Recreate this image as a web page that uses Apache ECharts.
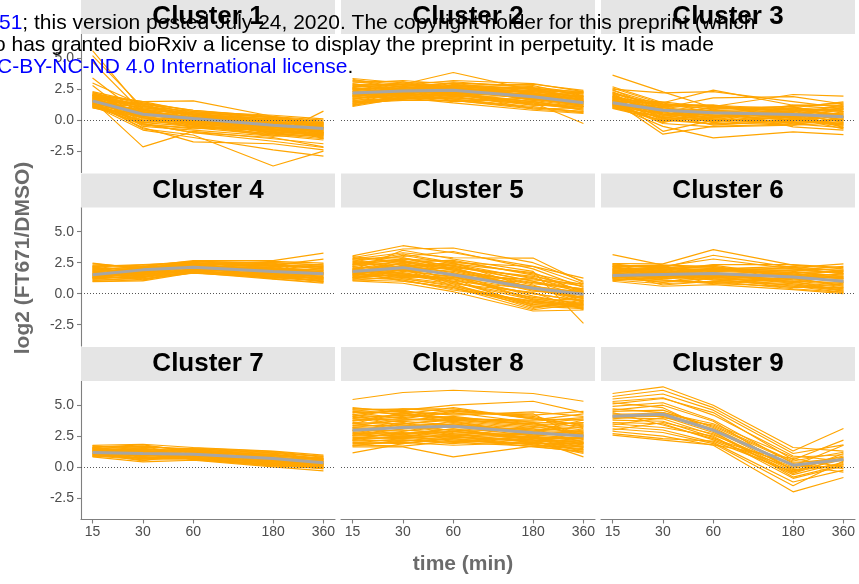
<!DOCTYPE html>
<html>
<head>
<meta charset="utf-8">
<script src="https://cdn.jsdelivr.net/npm/echarts@6.0.0/dist/echarts.min.js"></script>
<style>
  html, body { margin: 0; padding: 0; background: #ffffff; }
  #chart { width: 859px; height: 584px; }
</style>
</head>
<body>
<div id="chart"></div>
<script>
// Sampling times (min) and y tick values
const times = [15, 30, 60, 180, 360];
const yTicks = [-2.5, 0, 2.5, 5];
const clusterNames = ['Cluster 1', 'Cluster 2', 'Cluster 3', 'Cluster 4', 'Cluster 5',
                      'Cluster 6', 'Cluster 7', 'Cluster 8', 'Cluster 9'];

// Per-gene log2 (FT671/DMSO) profiles, one row per gene, values at each time
const cluster1 = [
  [2.3, 1.4, 0.8, 0.3, 0.0], [2.2, 1.3, 0.6, 0.2, -0.3], [2.1, 1.5, 0.7, 0.4, 0.1],
  [2.0, 1.1, 0.5, -0.1, -0.5], [1.9, 0.9, 0.4, 0.0, -0.2], [1.8, 1.2, 0.3, -0.3, -0.7],
  [1.7, 0.7, 0.2, -0.2, -0.4], [1.6, 0.5, 0.1, -0.5, -0.9], [1.5, 0.8, 0.5, 0.1, -0.6],
  [1.4, 0.3, -0.1, -0.6, -1.0], [1.3, 0.6, 0.0, -0.4, -0.8], [1.2, 0.2, -0.3, -0.8, -1.2],
  [1.1, 0.4, 0.2, -0.7, -1.1], [1.0, 0.0, -0.4, -0.9, -1.3], [1.6, 1.0, 0.6, -0.1, -0.3],
  [1.9, 0.1, -0.2, -1.0, -1.4], [1.4, -0.2, -0.5, -1.1, -1.5], [1.2, -0.4, -0.6, -1.2, -1.6],
  [2.0, -0.5, -0.8, -1.3, -1.2], [1.7, 0.6, 0.3, -0.5, -1.0], [1.5, 1.3, 0.8, 0.2, -0.1],
  [1.3, 0.9, 0.4, -0.2, -0.5], [1.1, 0.7, -0.2, -0.3, -0.9], [2.1, 0.4, 0.0, -0.6, -0.7],
  [1.8, 0.2, -0.6, -0.8, -1.1], [1.0, 0.5, 0.1, -1.0, -0.8],
  [2.25, 1.0, 0.45, 0.1, -0.4], [2.15, 0.8, 0.2, -0.4, -0.6], [2.05, 1.2, 0.1, -0.7, -1.2],
  [1.95, 0.5, 0.6, 0.3, -0.5], [1.85, 0.3, -0.3, -0.3, -0.7], [1.75, 1.1, 0.7, 0.0, -1.1],
  [1.65, 0.0, -0.5, -0.9, -0.4], [1.55, 0.7, -0.1, -0.8, -1.3], [1.45, 1.4, 0.5, -0.6, -0.2],
  [1.35, -0.1, 0.3, -0.2, -1.4], [1.25, 0.9, 0.0, -1.1, -0.6], [1.15, -0.3, -0.7, -0.4, -1.0],
  [1.05, 0.3, 0.6, -0.5, -0.3], [1.5, 0.6, -0.3, -1.2, -1.0], [1.8, 0.4, 0.3, -0.7, -0.8],
  [2.0, 0.9, -0.4, 0.1, -1.5], [1.3, 1.1, 0.7, 0.2, -0.6], [1.7, -0.2, 0.0, -0.8, -0.3],
  [1.1, 0.8, -0.2, -1.0, -1.1], [1.9, 1.3, 0.2, -0.1, -1.2],
  [5.6, 0.8, 0.2, -0.3, -0.6], [5.2, 1.0, 0.5, -0.2, -1.0], [4.7, 0.6, -0.1, -0.7, -1.3],
  [3.4, 0.3, -0.3, -0.5, -0.9], [3.0, 1.2, 0.4, -0.4, -1.5], [2.8, -0.3, -1.0, -1.4, -2.15],
  [1.6, -2.15, -0.9, -1.5, -1.9], [1.3, -0.6, -1.75, -1.9, -2.4], [1.5, -0.7, -1.2, -3.7, -2.5],
  [1.2, -0.8, -1.4, -2.4, -2.9], [1.4, -0.3, -1.0, -1.7, -2.2], [2.0, 1.5, 1.56, 0.3, -0.2],
  [1.0, 0.2, -0.4, -1.3, 0.73]
];
const cluster2 = [
  [3.36, 3.0, 3.1, 2.6, 2.0], [3.2, 2.9, 2.8, 2.9, 2.4], [3.0, 3.2, 2.9, 2.5, 1.8],
  [2.9, 2.7, 3.0, 2.7, 2.2], [2.8, 2.5, 2.6, 2.2, 1.7], [2.7, 2.8, 3.2, 2.95, 2.3],
  [2.6, 2.4, 2.7, 2.0, 1.5], [2.5, 2.6, 2.5, 2.3, 1.9], [2.4, 2.2, 2.3, 1.8, 1.3],
  [2.3, 2.5, 2.4, 2.1, 1.6], [2.2, 2.3, 2.6, 1.6, 1.1], [2.1, 2.0, 2.2, 1.9, 1.4],
  [2.0, 2.4, 2.0, 1.5, 1.0], [1.9, 2.1, 2.5, 1.7, 1.2], [1.8, 1.9, 2.1, 1.3, 0.9],
  [1.7, 2.2, 1.9, 2.0, 1.7], [1.6, 1.8, 1.8, 1.4, 0.8], [1.5, 1.7, 2.3, 1.2, 1.1],
  [1.4, 1.6, 1.6, 1.0, 0.7], [1.3, 2.0, 1.7, 1.1, 0.6], [1.1, 1.8, 1.4, 0.8, 0.54],
  [3.3, 2.6, 2.7, 2.4, 2.2], [3.15, 3.1, 2.3, 2.0, 1.5], [2.95, 2.3, 3.0, 2.8, 1.9],
  [2.85, 2.9, 2.4, 1.7, 1.2], [2.65, 2.1, 2.8, 2.5, 2.3], [2.45, 2.7, 2.1, 1.5, 0.9],
  [2.35, 1.9, 2.6, 2.3, 1.8], [2.15, 2.6, 3.0, 2.1, 1.4], [2.05, 1.7, 1.9, 1.2, 1.1],
  [1.85, 2.4, 2.2, 2.4, 1.9], [1.75, 2.0, 2.9, 1.9, 1.5], [1.65, 2.5, 1.7, 1.0, 0.7],
  [1.55, 2.2, 2.4, 1.7, 1.3], [1.45, 1.8, 2.0, 2.2, 1.6], [1.35, 2.3, 2.2, 1.5, 0.8],
  [1.25, 1.7, 1.8, 1.3, 1.2], [1.15, 2.1, 1.6, 0.9, 0.6], [2.75, 3.0, 2.5, 1.8, 1.1],
  [2.55, 2.2, 2.7, 2.6, 1.7], [1.95, 3.1, 2.6, 2.0, 2.2],
  [2.5, 2.9, 3.85, 2.4, 1.6], [2.3, 2.1, 2.0, 1.4, -0.27], [3.1, 2.7, 2.4, 2.6, 2.1],
  [1.9, 2.6, 2.8, 2.2, 1.3], [2.6, 2.0, 2.2, 0.9, 1.0], [2.0, 2.8, 2.7, 1.6, 2.0],
  [1.2, 1.9, 1.5, 1.8, 1.5]
];
const cluster3 = [
  [3.63, 2.28, 1.0, 0.8, 0.5], [2.7, 1.4, 2.42, 1.2, 0.9], [2.5, 2.2, 2.3, 1.5, 1.0],
  [2.4, 1.2, 1.1, 2.07, 1.94], [2.2, 1.0, 1.8, 1.9, 1.3], [2.1, 1.3, 0.9, 1.0, 1.48],
  [2.0, 0.9, 0.8, 0.6, 0.4], [1.9, 1.1, 1.2, 0.9, 0.7], [1.8, 0.7, 0.5, 0.7, 1.1],
  [1.7, 1.48, 1.0, 1.1, 0.2], [1.6, 0.5, 0.3, 0.2, 0.6], [1.5, 0.8, 0.7, 0.4, -0.1],
  [1.4, 0.6, 0.2, 0.8, 0.9], [1.3, 0.4, 0.6, 0.3, 0.3], [1.2, 1.0, 0.4, 0.0, -0.3],
  [1.1, 0.2, -0.1, 0.5, 0.8], [1.0, 0.3, 0.1, -0.2, 0.1], [0.95, 0.0, -0.3, 0.1, -0.5],
  [1.3, -0.27, -0.54, -0.4, -0.2], [1.5, 0.1, 0.9, -0.54, -0.8], [1.9, -0.9, 0.0, 0.2, 0.5],
  [1.6, -1.13, -0.5, -0.3, 0.0], [1.2, -0.5, -1.43, -0.94, -1.16], [1.4, 0.7, -0.2, 1.21, 1.2],
  [1.1, 1.2, 1.21, 0.6, -0.6], [2.3, 0.5, 0.0, -0.1, 0.7], [1.8, 0.9, 0.6, 1.0, 0.3],
  [1.0, 0.6, 0.4, 0.3, 1.3], [1.7, 0.2, 0.8, 0.0, -0.4], [1.3, 1.1, 0.3, 0.7, 0.0],
  [2.6, 1.3, 1.1, 0.5, 0.2], [2.45, 0.8, 0.3, 0.9, 1.1], [2.25, 1.1, 0.7, 0.2, -0.3],
  [2.05, 0.4, 1.0, 0.7, 0.9], [1.95, 0.6, 0.1, -0.1, 0.4], [1.85, 1.2, 0.9, 1.1, 1.4],
  [1.75, 0.0, 0.4, 0.6, -0.2], [1.65, 0.9, -0.2, 0.3, 0.6], [1.55, 0.3, 1.1, 0.8, 0.0],
  [1.45, 1.4, 0.6, -0.3, -0.6], [1.35, -0.1, 0.2, 0.5, 1.0], [1.25, 0.7, 0.8, 0.9, 0.2],
  [1.15, 0.5, -0.4, 0.0, 0.5], [1.05, 1.0, 0.5, 0.4, -0.4], [0.98, 0.2, 0.0, 1.0, 0.7],
  [2.15, 0.1, -0.3, -0.2, 0.1], [1.6, 1.3, 1.2, 0.1, 0.9], [1.9, 0.4, 0.5, 1.2, 1.2],
  [1.4, -0.2, 0.7, 0.2, -0.7], [1.2, 0.8, 0.1, -0.4, 0.3]
];
const cluster4 = [
  [2.46, 2.0, 2.6, 2.5, 2.3], [2.3, 2.2, 2.67, 2.67, 3.27], [2.2, 2.35, 2.5, 2.3, 2.79],
  [2.1, 1.9, 2.3, 2.6, 2.46], [2.0, 2.1, 2.4, 2.2, 2.2], [1.9, 1.8, 2.2, 2.0, 1.9],
  [1.8, 2.0, 2.0, 2.4, 2.1], [1.7, 1.7, 2.1, 1.9, 1.7], [1.6, 1.9, 2.3, 1.7, 1.5],
  [1.5, 1.6, 1.9, 1.8, 1.8], [1.4, 1.5, 2.0, 1.5, 1.3], [1.3, 1.8, 1.8, 1.6, 1.2],
  [1.2, 1.4, 1.7, 1.4, 1.0], [1.1, 1.2, 1.65, 1.3, 1.1], [1.0, 1.1, 1.9, 1.2, 0.9],
  [0.97, 1.03, 1.7, 1.17, 0.84], [1.5, 2.1, 2.2, 2.1, 1.6], [1.8, 1.5, 2.5, 1.6, 1.4],
  [1.3, 1.3, 2.4, 2.3, 2.0], [2.0, 1.6, 1.8, 1.5, 1.2], [1.6, 2.2, 2.0, 1.9, 2.4],
  [1.2, 1.7, 2.1, 2.0, 1.7], [2.2, 1.4, 1.9, 1.4, 1.0], [1.4, 2.0, 2.6, 2.2, 1.5],
  [2.4, 2.1, 2.3, 2.0, 1.6], [2.25, 1.7, 2.2, 1.8, 1.3], [2.15, 2.3, 2.6, 2.4, 2.0],
  [2.05, 1.5, 2.0, 1.6, 1.1], [1.95, 2.2, 2.5, 2.1, 1.9], [1.85, 1.3, 1.8, 1.3, 1.0],
  [1.75, 2.1, 2.4, 2.5, 2.3], [1.65, 1.2, 1.7, 1.4, 1.2], [1.55, 1.9, 2.1, 1.7, 1.4],
  [1.45, 1.1, 1.8, 2.0, 1.8], [1.35, 1.6, 2.3, 1.9, 1.6], [1.25, 2.0, 2.5, 1.5, 0.95],
  [1.15, 1.5, 1.9, 2.3, 2.2], [1.05, 1.3, 2.0, 1.8, 1.3], [1.7, 1.8, 2.4, 1.2, 1.9],
  [1.9, 1.1, 2.1, 2.5, 1.1], [1.3, 2.2, 1.7, 1.6, 2.1], [2.1, 1.6, 2.2, 1.3, 1.7]
];
const cluster5 = [
  [3.05, 3.87, 3.3, 2.2, 1.25], [2.9, 3.6, 3.68, 2.5, 1.0], [2.8, 3.3, 2.9, 2.87, 0.9],
  [2.7, 3.0, 3.4, 2.0, 0.5], [2.5, 2.8, 2.6, 1.6, 0.7], [2.3, 3.1, 2.4, 1.2, 0.3],
  [2.2, 2.6, 2.1, 1.4, 0.6], [2.0, 2.4, 1.9, 0.9, 0.2], [1.9, 2.2, 2.3, 1.0, -0.2],
  [1.8, 2.0, 1.6, 0.6, 0.1], [1.7, 1.9, 1.3, 0.3, -0.4], [1.6, 2.3, 1.7, 0.2, -0.1],
  [1.5, 1.7, 1.1, 0.0, -0.6], [1.4, 1.5, 0.9, -0.3, -0.8], [1.3, 1.8, 1.4, -0.5, -0.5],
  [1.2, 1.2, 0.7, -0.8, -1.0], [1.1, 1.0, 0.5, -1.0, -1.2], [1.03, 0.84, 0.16, -1.4, -1.32],
  [2.4, 2.7, 1.5, -0.2, -0.9], [2.1, 1.4, 1.2, -1.1, -0.7], [1.6, 1.1, 0.4, -0.6, -1.1],
  [2.6, 2.1, 1.8, 0.5, -0.3], [1.9, 3.5, 2.8, 1.8, -2.4], [1.5, 2.5, 2.0, 0.8, 0.4],
  [2.0, 1.6, 1.0, -0.9, -0.2], [1.3, 2.9, 2.2, 1.3, 0.0], [2.2, 1.3, 0.8, 0.1, -1.3],
  [1.7, 2.2, 2.5, 2.19, 0.8],
  [3.0, 2.5, 2.7, 1.5, 0.2], [2.85, 2.9, 2.0, 0.7, -0.6], [2.75, 1.9, 1.6, 1.1, 0.8],
  [2.55, 3.2, 2.5, 0.4, -0.4], [2.45, 1.6, 1.2, 0.9, 0.4], [2.35, 2.4, 1.4, -0.4, -1.0],
  [2.15, 2.0, 2.4, 1.7, 0.1], [2.05, 1.2, 0.6, -0.7, -0.9], [1.95, 2.7, 1.9, 0.5, -0.7],
  [1.85, 1.5, 1.3, 1.2, 0.6], [1.75, 2.5, 0.9, -0.5, -1.2], [1.65, 1.3, 1.5, 0.6, 0.0],
  [1.55, 2.1, 0.8, -1.2, -0.5], [1.45, 1.9, 2.1, 0.3, -0.3], [1.35, 1.1, 0.3, -0.6, -0.9],
  [1.25, 1.6, 1.0, 0.4, 0.2], [1.15, 2.0, 0.6, -0.9, -1.1], [1.08, 1.4, 1.2, 0.0, -0.6],
  [2.3, 2.8, 2.2, 1.0, 0.3], [1.8, 1.0, 0.5, -1.3, -0.8]
];
const cluster6 = [
  [3.15, 2.3, 2.0, 2.2, 1.8], [2.43, 2.4, 3.55, 2.3, 2.0], [2.3, 2.1, 3.1, 2.1, 2.4],
  [2.2, 2.2, 2.8, 2.0, 1.6], [2.1, 1.9, 2.34, 2.34, 2.1], [2.0, 2.0, 2.1, 1.8, 1.4],
  [1.9, 1.7, 1.9, 1.9, 1.7], [1.8, 1.8, 2.0, 1.5, 1.2], [1.7, 1.6, 1.8, 1.6, 1.5],
  [1.6, 1.5, 1.7, 1.3, 1.0], [1.5, 1.4, 1.5, 1.4, 1.3], [1.4, 1.3, 1.6, 1.1, 0.8],
  [1.3, 1.2, 1.4, 1.2, 1.1], [1.2, 1.0, 1.2, 0.9, 0.6], [1.1, 0.8, 1.0, 0.7, 0.4],
  [1.0, 0.6, 0.73, 0.33, 0.0], [1.6, 1.9, 1.3, 1.0, 0.2], [1.4, 1.1, 0.9, 0.5, 0.5],
  [1.9, 1.4, 1.1, 0.8, 0.3], [1.2, 1.6, 1.9, 1.7, 0.9], [2.2, 1.5, 1.3, 1.2, 0.7],
  [1.5, 0.9, 1.6, 1.5, 1.9], [1.8, 2.1, 2.2, 1.1, 1.2], [1.3, 1.7, 0.8, 0.6, 0.1],
  [2.4, 2.0, 1.9, 1.6, 1.3], [2.35, 1.6, 1.5, 1.9, 2.2], [2.25, 2.3, 2.2, 1.3, 0.6],
  [2.15, 1.4, 1.2, 1.0, 0.9], [2.05, 2.1, 1.8, 2.1, 1.6], [1.95, 1.2, 1.4, 0.6, 0.3],
  [1.85, 1.9, 2.3, 1.4, 1.0], [1.75, 1.1, 0.9, 1.2, 1.4], [1.65, 2.2, 1.6, 0.9, 0.5],
  [1.55, 1.3, 2.0, 1.7, 1.8], [1.45, 1.8, 1.1, 0.7, 0.2], [1.35, 0.9, 1.3, 1.5, 1.2],
  [1.25, 1.5, 1.7, 0.8, 0.4], [1.15, 1.1, 0.8, 1.3, 1.6], [1.05, 1.4, 1.5, 1.0, 0.7],
  [1.7, 0.7, 1.0, 0.4, 0.1], [2.0, 1.7, 2.0, 2.0, 1.9], [1.3, 2.0, 1.2, 0.5, 0.8]
];
const cluster7 = [
  [1.77, 1.85, 1.59, 1.29, 0.97], [1.7, 1.6, 1.5, 1.2, 0.8], [1.6, 1.7, 1.4, 1.1, 0.9],
  [1.5, 1.4, 1.3, 1.0, 0.7], [1.4, 1.5, 1.2, 0.9, 0.6], [1.35, 1.2, 1.35, 0.8, 0.5],
  [1.3, 1.3, 1.1, 0.85, 0.4], [1.2, 1.1, 1.0, 0.7, 0.5], [1.15, 1.0, 1.15, 0.6, 0.3],
  [1.1, 0.9, 0.9, 0.5, 0.2], [1.05, 1.25, 0.8, 0.4, 0.35], [1.0, 0.8, 0.75, 0.3, 0.1],
  [0.95, 0.7, 0.7, 0.2, 0.0], [0.9, 0.6, 0.6, 0.1, -0.1], [0.83, 0.43, 0.56, 0.03, -0.3],
  [1.25, 0.55, 0.95, 0.45, 0.15], [1.45, 1.05, 0.65, 0.25, 0.25], [1.55, 0.75, 0.85, 0.65, 0.45],
  [0.88, 1.45, 1.25, 1.05, 0.6], [1.65, 0.95, 1.05, 0.55, 0.05],
  [1.75, 1.35, 1.45, 1.15, 0.65], [1.62, 1.8, 1.25, 0.95, 0.75], [1.58, 1.15, 1.55, 1.25, 0.85],
  [1.48, 1.65, 1.0, 0.6, 0.3], [1.42, 0.85, 1.4, 1.0, 0.55], [1.32, 1.55, 0.9, 0.35, 0.2],
  [1.28, 0.65, 1.2, 0.75, 0.4], [1.22, 1.4, 0.7, 0.15, -0.05], [1.12, 0.5, 1.3, 0.95, 0.7],
  [1.08, 1.35, 0.6, 0.2, 0.1], [1.02, 0.95, 1.1, 0.55, 0.3], [0.98, 1.15, 0.8, 0.45, 0.45],
  [0.92, 0.75, 0.95, 0.3, -0.15], [0.86, 1.05, 0.65, 0.1, 0.2], [1.52, 1.25, 1.05, 0.8, 0.6],
  [1.38, 0.85, 0.75, 0.35, 0.0]
];
const cluster8 = [
  [5.46, 6.02, 6.2, 5.94, 5.32], [4.73, 4.6, 5.0, 5.32, 4.4], [4.6, 4.7, 4.5, 4.2, 4.5],
  [4.5, 4.3, 4.8, 3.9, 3.8], [4.4, 4.5, 4.2, 4.46, 4.1], [4.2, 4.0, 4.4, 3.6, 3.5],
  [4.0, 4.2, 3.9, 3.8, 4.3], [3.9, 3.8, 4.1, 3.4, 3.0], [3.8, 3.9, 3.7, 3.2, 3.4],
  [3.6, 3.5, 3.8, 3.5, 2.8], [3.5, 3.7, 3.4, 3.0, 3.2], [3.4, 3.3, 3.6, 2.8, 2.6],
  [3.3, 3.4, 3.2, 3.1, 2.9], [3.2, 3.1, 3.5, 2.6, 2.3], [3.1, 3.2, 3.0, 2.9, 2.7],
  [3.0, 2.9, 3.3, 2.5, 2.1], [2.9, 3.0, 2.8, 2.7, 2.5], [2.8, 2.7, 3.1, 2.3, 2.0],
  [2.7, 2.8, 2.6, 2.4, 2.4], [2.6, 2.5, 2.9, 2.2, 1.8], [2.5, 2.6, 2.4, 2.1, 2.2],
  [2.4, 2.3, 2.7, 2.0, 1.6], [2.3, 2.4, 2.2, 1.9, 1.9], [2.2, 2.1, 2.5, 1.8, 1.5],
  [2.1, 2.2, 2.0, 1.7, 1.7], [2.0, 1.9, 2.3, 1.64, 1.3], [1.9, 2.0, 1.77, 2.0, 1.4],
  [1.8, 1.7, 2.1, 1.9, 1.1], [1.64, 1.64, 0.83, 1.7, 1.2], [1.15, 1.9, 2.4, 2.2, 0.83],
  [4.1, 3.6, 2.5, 3.3, 3.6], [3.7, 4.1, 4.6, 4.0, 3.1], [2.6, 3.5, 3.9, 3.7, 4.0],
  [4.3, 3.2, 3.0, 2.4, 1.9], [3.0, 2.4, 2.9, 3.6, 2.5], [2.2, 2.9, 3.5, 2.9, 3.3],
  [3.5, 4.4, 4.3, 4.3, 2.2], [1.7, 2.2, 1.9, 2.5, 3.0], [4.8, 4.4, 3.6, 3.1, 2.0],
  [4.65, 4.2, 4.0, 3.5, 3.9], [4.45, 3.9, 4.5, 4.1, 3.3], [4.25, 4.6, 3.8, 3.3, 2.7],
  [3.95, 3.4, 3.2, 2.9, 3.8], [3.75, 4.3, 4.0, 3.6, 2.4], [3.55, 3.0, 2.7, 2.6, 2.9],
  [3.35, 3.8, 3.9, 3.4, 3.6], [3.15, 2.6, 3.1, 2.2, 2.0], [2.95, 3.5, 3.4, 3.0, 2.8],
  [2.75, 2.4, 2.5, 2.0, 1.7], [2.55, 3.1, 3.7, 2.7, 2.6], [2.35, 2.7, 2.9, 2.3, 2.3],
  [2.15, 2.5, 2.1, 2.5, 1.6], [1.95, 2.3, 2.6, 2.1, 1.9], [1.75, 2.1, 2.3, 1.8, 1.4],
  [4.1, 4.7, 4.7, 3.9, 3.4], [3.2, 3.6, 2.9, 2.4, 1.2]
];
const cluster9 = [
  [5.94, 6.48, 5.0, 1.59, 1.3], [5.7, 6.2, 4.8, 1.3, 3.12], [5.5, 5.9, 4.6, 1.1, 1.8],
  [5.3, 5.6, 4.2, 0.9, 0.5], [5.1, 5.54, 4.4, 0.6, 2.18], [4.9, 5.2, 3.8, 0.3, 0.8],
  [4.7, 4.4, 3.5, 0.8, 1.0], [4.5, 4.6, 3.2, 0.1, 1.77], [4.3, 4.2, 3.0, -0.2, 0.2],
  [4.2, 4.4, 3.3, 0.4, 0.6], [4.1, 4.1, 2.8, -0.35, 0.3], [4.0, 3.9, 2.6, 0.0, 0.9],
  [3.9, 4.3, 3.1, 0.2, -0.1], [3.8, 3.7, 2.4, -0.6, 0.4], [3.6, 3.5, 2.2, -0.1, 0.7],
  [3.5, 3.2, 2.5, -0.9, 0.1], [3.3, 3.0, 2.0, -1.2, -0.24], [3.1, 2.8, 1.9, -1.5, 0.5],
  [2.9, 2.5, 1.77, -1.99, -0.83], [2.7, 2.3, 2.1, -0.4, 1.1], [2.58, 2.18, 1.8, 0.7, 0.0],
  [4.6, 5.0, 3.7, -0.3, 0.6], [5.2, 4.8, 2.9, -0.8, 0.2], [3.4, 4.0, 3.4, 0.5, 1.2],
  [4.4, 3.4, 2.3, 0.2, -0.4], [3.0, 3.6, 2.7, -0.5, 0.8]
];

// Cluster centroid profiles (grey lines)
const centroid1 = [1.56, 0.48, 0.13, -0.40, -0.67];
const centroid2 = [2.20, 2.36, 2.42, 1.88, 1.40];
const centroid3 = [1.40, 0.80, 0.59, 0.46, 0.27];
const centroid4 = [1.52, 1.92, 2.14, 1.78, 1.60];
const centroid5 = [1.78, 2.10, 1.52, 0.44, -0.05];
const centroid6 = [1.46, 1.54, 1.62, 1.35, 1.00];
const centroid7 = [1.18, 1.10, 1.05, 0.70, 0.35];
const centroid8 = [2.98, 3.20, 3.30, 2.77, 2.52];
const centroid9 = [4.11, 4.27, 2.98, 0.16, 0.62];

const clusters = [cluster1, cluster2, cluster3, cluster4, cluster5, cluster6, cluster7, cluster8, cluster9];
const centroids = [centroid1, centroid2, centroid3, centroid4, centroid5, centroid6, centroid7, centroid8, centroid9];

// ---- layout of the 3x3 facet grid ----
const FONT = '"Liberation Sans", Arial, Helvetica, sans-serif';
const colLeft = [81, 341, 601];
const rowTop = [34, 207.5, 381];
const panelW = 254, panelH = 138.5, stripH = 34;
const axisGrey = '#7f7f7f';
const textGrey = '#4d4d4d';

// log2 time axis with 5% padding on each side
const lx0 = Math.log2(times[0]), lx1 = Math.log2(times[times.length - 1]);
const lpad = 0.05 * (lx1 - lx0);
const xMin = Math.pow(2, lx0 - lpad), xMax = Math.pow(2, lx1 + lpad);
const yMin = -4.22, yMax = 6.95;

const grids = [], xAxes = [], yAxes = [], series = [], graphics = [];

clusterNames.forEach((name, i) => {
  const r = Math.floor(i / 3), c = i % 3;
  grids.push({ left: colLeft[c], top: rowTop[r], width: panelW, height: panelH, containLabel: false });
  const bottomRow = r === 2, leftCol = c === 0;
  xAxes.push({
    type: 'log', logBase: 2, gridIndex: i, min: xMin, max: xMax,
    axisLine: { show: bottomRow, onZero: false, lineStyle: { color: axisGrey, width: 1.1 } },
    axisTick: { show: bottomRow, customValues: times, length: 4, lineStyle: { color: axisGrey, width: 1.1 } },
    axisLabel: { show: bottomRow, customValues: times, color: textGrey, fontSize: 14, margin: 6,
                 fontFamily: FONT, formatter: v => String(Math.round(v)) },
    splitLine: { show: false }, minorTick: { show: false }
  });
  yAxes.push({
    type: 'value', gridIndex: i, min: yMin, max: yMax,
    axisLine: { show: leftCol, onZero: false, lineStyle: { color: axisGrey, width: 1.1 } },
    axisTick: { show: leftCol, customValues: yTicks, length: 4, lineStyle: { color: axisGrey, width: 1.1 } },
    axisLabel: { show: leftCol, customValues: yTicks, color: textGrey, fontSize: 14, margin: 7,
                 fontFamily: FONT, formatter: v => v.toFixed(1) },
    splitLine: { show: false }
  });

  // dotted zero reference line
  series.push({
    type: 'line', xAxisIndex: i, yAxisIndex: i, data: [], silent: true, z: 1,
    markLine: {
      silent: true, symbol: ['none', 'none'], label: { show: false },
      lineStyle: { color: '#555555', width: 1, type: [1, 2] },
      data: [{ yAxis: 0 }], animation: false
    }
  });
  clusters[i].forEach(profile => {
    series.push({
      type: 'line', xAxisIndex: i, yAxisIndex: i, silent: true, z: 2,
      symbol: 'none', showSymbol: false, animation: false,
      lineStyle: { color: '#FFA500', width: 1.15 },
      data: times.map((t, k) => [t, profile[k]])
    });
  });
  series.push({
    type: 'line', xAxisIndex: i, yAxisIndex: i, silent: true, z: 3,
    symbol: 'none', showSymbol: false, animation: false,
    lineStyle: { color: '#A6A6A6', width: 3 },
    data: times.map((t, k) => [t, centroids[i][k]])
  });

  // facet strip
  graphics.push({
    type: 'rect', x: colLeft[c], y: rowTop[r] - stripH, z: 5,
    shape: { x: 0, y: 0, width: panelW, height: stripH },
    style: { fill: '#E5E5E5' }
  });
  graphics.push({
    type: 'text', x: colLeft[c] + panelW / 2, y: rowTop[r] - stripH / 2, z: 6,
    style: { text: name, fill: '#000000', fontSize: 26, fontWeight: 'bold', fontFamily: FONT,
             align: 'center', verticalAlign: 'middle' }
  });
});

// axis titles
graphics.push({
  type: 'text', x: 463, y: 564, z: 6,
  style: { text: 'time (min)', fill: '#6b6b6b', fontSize: 21, fontWeight: 'bold', fontFamily: FONT,
           align: 'center', verticalAlign: 'middle' }
});
graphics.push({
  type: 'text', x: 23, y: 258, rotation: Math.PI / 2, z: 6,
  style: { text: 'log2 (FT671/DMSO)', fill: '#6b6b6b', fontSize: 21, fontWeight: 'bold', fontFamily: FONT,
           align: 'center', verticalAlign: 'middle' }
});

// preprint notice printed across the top
const noticeRich = { b: { fill: '#0000FF', fontSize: 21, fontFamily: FONT }, k: { fill: '#000000', fontSize: 21, fontFamily: FONT } };
[
  { x: -1, y: 23, text: '{b|51}{k|; this version posted July 24, 2020. The copyright holder for this preprint (which}' },
  { x: -6, y: 45, text: '{k|o has granted bioRxiv a license to display the preprint in perpetuity. It is made}' },
  { x: -3, y: 67, text: '{b|C-BY-NC-ND 4.0 International license}{k|.}' }
].forEach(line => {
  graphics.push({
    type: 'text', x: line.x, y: line.y, z: 20,
    style: { text: line.text, rich: noticeRich, fontSize: 21, fontFamily: FONT, align: 'left', verticalAlign: 'middle' }
  });
});

const chart = echarts.init(document.getElementById('chart'), null, { renderer: 'canvas' });
chart.setOption({
  animation: false,
  backgroundColor: '#ffffff',
  grid: grids,
  xAxis: xAxes,
  yAxis: yAxes,
  series: series,
  graphic: graphics
});
</script>
</body>
</html>
